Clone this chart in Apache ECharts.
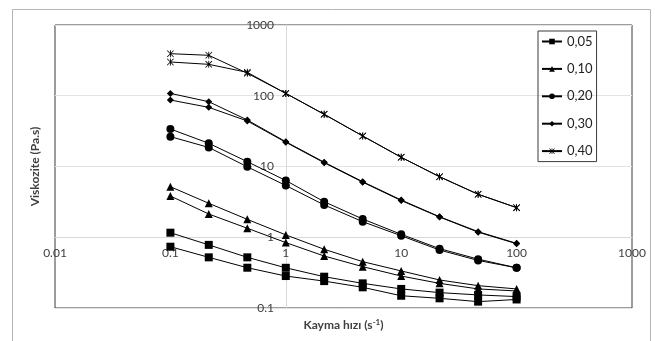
<!DOCTYPE html>
<html>
<head>
<meta charset="utf-8">
<script src="https://cdn.jsdelivr.net/npm/echarts@6/dist/echarts.min.js"></script>
<style>
  html, body { margin: 0; padding: 0; background: #fff; }
  #chart { width: 655px; height: 341px; }
</style>
</head>
<body>
<div id="chart"></div>
<script>
document.addEventListener('DOMContentLoaded', function () {

    // shear rates (s-1), three points per decade
    const shearRates = [0.1, 0.215, 0.464, 1, 2.15, 4.64, 10, 21.5, 46.4, 100];

    // viscosity (Pa.s), two runs per concentration
    const visc005a = [1.16, 0.78, 0.52, 0.37, 0.277, 0.223, 0.186, 0.165, 0.153, 0.145];
    const visc005b = [0.735, 0.52, 0.371, 0.283, 0.24, 0.196, 0.149, 0.137, 0.123, 0.132];
    const visc010a = [5.18, 3.02, 1.79, 1.08, 0.676, 0.452, 0.334, 0.249, 0.207, 0.186];
    const visc010b = [3.83, 2.13, 1.34, 0.84, 0.543, 0.384, 0.283, 0.223, 0.186, 0.174];
    const visc020a = [33.9, 21.3, 11.7, 6.34, 3.18, 1.81, 1.10, 0.69, 0.49, 0.37];
    const visc020b = [26.4, 18.6, 9.9, 5.39, 2.86, 1.66, 1.05, 0.66, 0.47, 0.37];
    const visc030a = [108, 82.4, 45.4, 22.4, 11.5, 6.1, 3.36, 1.95, 1.2, 0.82];
    const visc030b = [87, 68.6, 44, 22, 11.3, 6.0, 3.3, 1.93, 1.18, 0.81];
    const visc040a = [393, 373, 208, 108, 54.7, 27, 13.5, 7.17, 4.05, 2.62];
    const visc040b = [300, 278, 214, 108, 54.7, 27, 13.5, 7.17, 4.05, 2.62];

    const legendNames = ['0,05', '0,10', '0,20', '0,30', '0,40'];

    const asterisk = 'path://M4.4,0 L5.6,0 L5.6,10 L4.4,10 Z M0,0.8 L0.8,0 L10,9.2 L9.2,10 Z M9.2,0 L10,0.8 L0.8,10 L0,9.2 Z';

    const chartDom = document.getElementById('chart');
    const chart = echarts.init(chartDom);

    function makeSeries(name, values, symbol, size) {
        return {
            name: name,
            type: 'line',
            data: shearRates.map((x, i) => [x, values[i]]),
            symbol: symbol,
            symbolSize: size,
            showSymbol: true,
            lineStyle: { color: '#000', width: 1 },
            itemStyle: { color: '#000' },
            emphasis: { disabled: true },
            animation: false
        };
    }

    const plainNumber = function (v) { return String(v); };

    const option = {
        animation: false,
        textStyle: { fontFamily: 'Lato' },
        grid: {
            left: 55,
            top: 25,
            width: 577,
            height: 283,
            show: true,
            borderColor: '#3a3a3a',
            borderWidth: 1
        },
        legend: {
            data: legendNames,
            orient: 'vertical',
            left: 538,
            top: 31,
            itemWidth: 20,
            itemHeight: 7,
            itemGap: 14.4,
            padding: [4, 4, 4, 3],
            borderColor: '#3a3a3a',
            borderWidth: 1,
            textStyle: { fontSize: 13, color: '#222', fontFamily: 'Lato' }
        },
        xAxis: {
            type: 'log',
            logBase: 10,
            min: 0.01,
            max: 1000,
            offset: -71,
            axisLine: { show: true, lineStyle: { color: '#d9d9d9' } },
            axisTick: { show: false },
            splitLine: { show: false },
            axisLabel: { fontSize: 12, color: '#404040', margin: 10, formatter: plainNumber },
            name: 'Kayma hızı (s{sup|-1})',
            nameLocation: 'middle',
            nameGap: 81,
            nameTextStyle: {
                fontSize: 12,
                fontWeight: 'bold',
                color: '#404040',
                rich: { sup: { fontSize: 8, fontWeight: 'bold', color: '#404040', verticalAlign: 'top', padding: [0, 0, 6, 0] } }
            }
        },
        yAxis: {
            type: 'log',
            logBase: 10,
            min: 0.1,
            max: 1000,
            offset: -231,
            axisLine: { show: true, lineStyle: { color: '#d9d9d9' } },
            axisTick: { show: false },
            splitLine: { show: true, lineStyle: { color: '#e3e3e3' } },
            axisLabel: { fontSize: 12, color: '#404040', margin: 12, formatter: plainNumber },
            name: 'Viskozite (Pa.s)',
            nameLocation: 'middle',
            nameGap: 245,
            nameTextStyle: { fontSize: 12, fontWeight: 'bold', color: '#404040' }
        },
        graphic: [
            {
                type: 'rect',
                shape: { x: 12.5, y: 9.5, width: 638, height: 340 },
                style: { fill: 'none', stroke: '#b5b5b5', lineWidth: 1 },
                silent: true,
                z: -10
            }
        ],
        series: [
            makeSeries('0,05', visc005a, 'rect', 8),
            makeSeries('0,05', visc005b, 'rect', 8),
            makeSeries('0,10', visc010a, 'triangle', 8),
            makeSeries('0,10', visc010b, 'triangle', 8),
            makeSeries('0,20', visc020a, 'circle', 8),
            makeSeries('0,20', visc020b, 'circle', 8),
            makeSeries('0,30', visc030a, 'diamond', 7),
            makeSeries('0,30', visc030b, 'diamond', 7),
            makeSeries('0,40', visc040a, asterisk, 7),
            makeSeries('0,40', visc040b, asterisk, 7)
        ]
    };

    chart.setOption(option);
});
</script>
</body>
</html>
